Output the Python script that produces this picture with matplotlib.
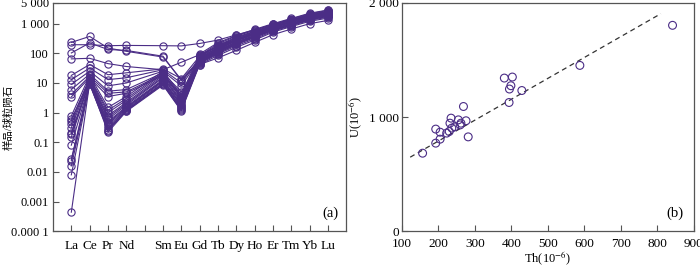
import numpy as np
import matplotlib
matplotlib.use('Agg')
import matplotlib.pyplot as plt
from matplotlib.ticker import FixedLocator, FixedFormatter

plt.rc('font', family=['Liberation Serif', 'Noto Sans CJK SC'], size=9.5)
plt.rc('mathtext', fontset='stix')
plt.rc('xtick', direction='in')
plt.rc('ytick', direction='in')

# REE elements (Pm slot left empty, unlabeled tick)
elements = ['La', 'Ce', 'Pr', 'Nd', '', 'Sm', 'Eu', 'Gd', 'Tb', 'Dy', 'Ho', 'Er', 'Tm', 'Yb', 'Lu']
ree_pos = [1, 2, 3, 4, 6, 7, 8, 9, 10, 11, 12, 13, 14, 15]

# chondrite-normalised zircon REE, La..Lu
zr01 = [234, 371, 151, 117, 75, 13, 60, 130, 240, 400, 680, 1000, 1550, 2000]
zr02 = [195, 195, 181, 185, 181, 178, 215, 280, 420, 620, 950, 1350, 2000, 2600]
zr03 = [103, 224, 135, 125, 80, 12, 55, 120, 220, 380, 640, 950, 1500, 1950]
zr04 = [65, 68, 45, 36, 28, 50, 90, 170, 300, 480, 780, 1150, 1750, 2300]
zr05 = [18, 42, 19, 22, 30, 14, 80, 180, 330, 540, 880, 1300, 1900, 2500]
zr06 = [13, 32, 13, 15, 28, 10, 70, 160, 300, 500, 820, 1200, 1800, 2400]
zr07 = [9, 25, 8, 10, 25, 8, 65, 140, 270, 450, 750, 1100, 1700, 2200]
zr08 = [6, 20, 5.3, 6, 22, 5, 55, 120, 230, 400, 680, 1000, 1550, 2000]
zr09 = [4.1, 17, 4.5, 5, 20, 4, 50, 110, 210, 370, 620, 930, 1450, 1850]
zr10 = [3.4, 15, 3.5, 4.5, 18, 3.5, 48, 100, 200, 350, 600, 900, 1400, 1800]
zr11 = [0.77, 18, 1.5, 3.5, 25, 4.0, 95, 230, 400, 640, 1000, 1500, 2250, 2900]
zr12 = [0.52, 15, 1.2, 3.0, 22, 3.3, 85, 210, 380, 600, 950, 1450, 2150, 2800]
zr13 = [0.41, 14, 1.0, 2.6, 20, 3.0, 80, 190, 350, 560, 900, 1350, 2050, 2650]
zr14 = [0.31, 13, 0.8, 2.2, 18, 2.6, 75, 175, 330, 530, 860, 1300, 1950, 2500]
zr15 = [0.21, 12, 0.6, 1.8, 15, 2.2, 68, 160, 300, 490, 800, 1200, 1800, 2350]
zr16 = [0.19, 11, 0.5, 1.6, 13, 2.0, 62, 145, 280, 460, 760, 1150, 1700, 2200]
zr17 = [0.08, 10, 0.4, 1.4, 12, 1.7, 58, 135, 260, 430, 720, 1100, 1600, 2100]
zr18 = [0.027, 11, 0.35, 1.3, 11, 1.5, 55, 125, 240, 400, 680, 1000, 1500, 1950]
zr19 = [0.024, 10, 0.3, 1.2, 10, 1.4, 50, 115, 220, 370, 640, 950, 1450, 1850]
zr20 = [0.016, 9.5, 0.27, 1.2, 9.5, 1.3, 48, 105, 200, 340, 600, 900, 1350, 1750]
zr21 = [0.008, 9, 0.25, 1.15, 9, 1.2, 45, 95, 180, 310, 560, 850, 1300, 1650]
zr22 = [0.00044, 10, 0.22, 1.1, 8.5, 1.15, 42, 85, 160, 280, 520, 800, 1200, 1550]
zr23 = [0.6, 12, 0.7, 2.0, 16, 2.4, 70, 150, 290, 470, 780, 1150, 1750, 2250]
zr24 = [0.15, 11, 0.45, 1.5, 12, 1.8, 42, 70, 126, 234, 425, 660, 1000, 1290]
samples = [zr01, zr02, zr03, zr04, zr05, zr06, zr07, zr08, zr09, zr10, zr11, zr12,
           zr13, zr14, zr15, zr16, zr17, zr18, zr19, zr20, zr21, zr22, zr23, zr24]

# Th vs U (ppm)
th = [157, 193, 205, 193, 205, 235, 232, 237, 230, 255, 262, 260, 276, 269, 282,
      223, 245, 381, 403, 399, 395, 429, 394, 588, 842]
u = [684, 895, 868, 772, 807, 991, 947, 904, 874, 976, 947, 932, 968, 1093, 827,
     860, 915, 1342, 1351, 1275, 1246, 1233, 1128, 1453, 1804]
fit_x = [123, 810]
fit_y = [649, 1906]

col = '#4b2d86'
spine_col = '#555555'

fig = plt.figure(figsize=(7.0, 2.68), dpi=100)
ax1 = fig.add_axes([0.0757, 0.137, 0.419, 0.852])
ax2 = fig.add_axes([0.574, 0.137, 0.417, 0.852])

for s in samples:
    ax1.plot(ree_pos, s, color=col, lw=0.8, marker='o', ms=5.2,
             mfc='none', mec=col, mew=0.8)
ax1.set_yscale('log')
ax1.set_ylim(1e-4, 5000)
ax1.set_xlim(0, 16)
ax1.xaxis.set_major_locator(FixedLocator(range(1, 16)))
ax1.xaxis.set_major_formatter(FixedFormatter(elements))
ax1.xaxis.set_minor_locator(FixedLocator([]))
yt = [1e-4, 1e-3, 1e-2, 0.1, 1, 10, 100, 1000, 5000]
ax1.yaxis.set_major_locator(FixedLocator(yt))
ax1.yaxis.set_major_formatter(FixedFormatter(['0.000 1', '0.001', '0.01', '0.1', '1',
                                              '10', '100', '1 000', '5 000']))
ax1.yaxis.set_minor_locator(FixedLocator([]))
ax1.set_ylabel('样品/球粒陨石', fontsize=7.5)
ax1.yaxis.set_label_coords(-0.135, 0.5)
ax1.text(0.975, 0.05, '(a)', transform=ax1.transAxes, ha='right', va='bottom', fontsize=10.5)

ax2.plot(fit_x, fit_y, color='#333333', lw=0.9, ls=(0, (4, 3)))
ax2.scatter(th, u, s=32, facecolors='none', edgecolors=col, linewidths=0.8, zorder=3)
ax2.set_xlim(100, 900)
ax2.set_ylim(0, 2000)
ax2.set_xticks(range(100, 1000, 100))
ax2.set_yticks([0, 1000, 2000])
ax2.set_yticklabels(['0', '1 000', '2 000'])
ax2.set_xlabel('Th(10$^{-6}$)', fontsize=9, labelpad=0)
ax2.set_ylabel('U(10$^{-6}$)', fontsize=9, labelpad=3)
ax2.text(0.965, 0.05, '(b)', transform=ax2.transAxes, ha='right', va='bottom', fontsize=10.5)

for ax in (ax1, ax2):
    for sp in ax.spines.values():
        sp.set_color(spine_col)
        sp.set_linewidth(0.9)
    ax.tick_params(length=4, width=0.8, color=spine_col, labelsize=9.5)
ax1.tick_params(axis='x', pad=6)
ax1.tick_params(axis='y', labelsize=9, pad=3)
ax2.tick_params(axis='x', pad=5)
ax2.tick_params(axis='y', pad=2)

fig.savefig('out.png', dpi=100)
